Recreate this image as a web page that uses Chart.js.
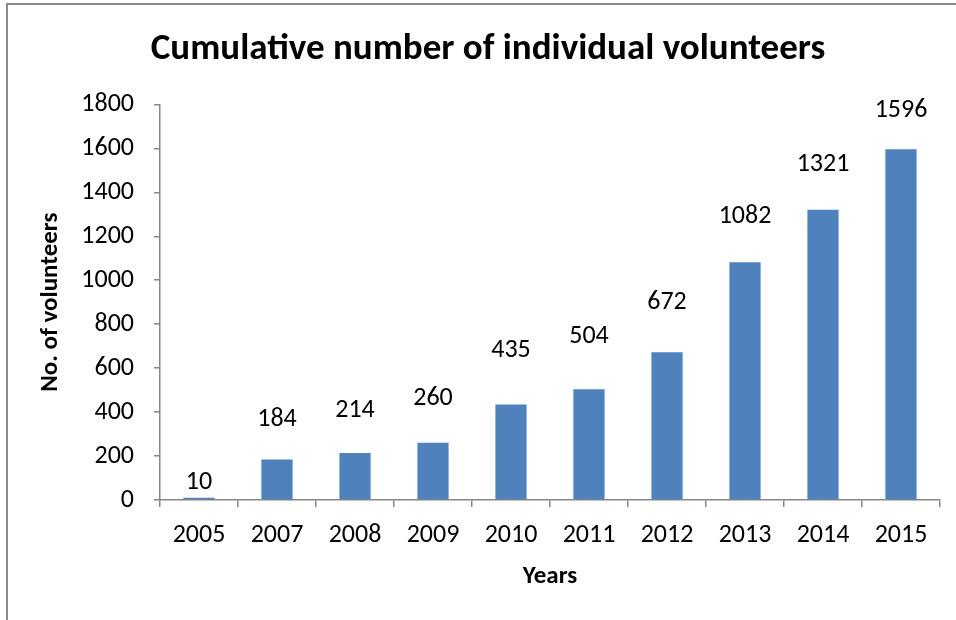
<!DOCTYPE html>
<html>
<head>
<meta charset="utf-8">
<script src="https://cdn.jsdelivr.net/npm/chart.js@4"></script>
<style>
  html, body { margin: 0; padding: 0; background: #fff; overflow: hidden; }
  #frame {
    position: absolute; left: 6px; top: 3px; width: 980px; height: 640px;
    border-left: 2px solid #8a8a8a; border-top: 2px solid #8a8a8a;
  }
  #wrap { position: absolute; left: 0; top: 0; width: 956px; height: 620px; }
</style>
</head>
<body>
<div id="frame"></div>
<div id="wrap"><canvas id="volChart" width="956" height="620"></canvas></div>
<script>
  const years = ['2005', '2007', '2008', '2009', '2010', '2011', '2012', '2013', '2014', '2015'];
  const volunteers = [10, 184, 214, 260, 435, 504, 672, 1082, 1321, 1596];
  const yTicks = [0, 200, 400, 600, 800, 1000, 1200, 1400, 1600, 1800];
  // how far each value label floats above its bar (px)
  const labelGap = [15, 40, 42, 44, 54, 53, 50, 46, 45, 39];

  const FONT = 'Carlito, Lato, sans-serif';
  const axisGrey = '#868686';

  const valueLabels = {
    id: 'valueLabels',
    afterDatasetsDraw(chart) {
      const {ctx} = chart;
      const meta = chart.getDatasetMeta(0);
      ctx.save();
      ctx.font = '26px ' + FONT;
      ctx.fillStyle = '#000';
      ctx.textAlign = 'center';
      ctx.textBaseline = 'middle';
      meta.data.forEach((bar, i) => {
        ctx.fillText(String(volunteers[i]), bar.x, bar.y - labelGap[i]);
      });
      ctx.restore();
    }
  };

  new Chart(document.getElementById('volChart'), {
    type: 'bar',
    data: {
      labels: years,
      datasets: [{
        data: volunteers,
        backgroundColor: '#4f81bd',
        borderWidth: 0,
        categoryPercentage: 1,
        barPercentage: 0.4
      }]
    },
    options: {
      responsive: false,
      animation: false,
      layout: {padding: {left: 36, right: 16, top: 16, bottom: 12}},
      plugins: {
        legend: {display: false},
        tooltip: {enabled: false},
        title: {
          display: true,
          text: 'Cumulative number of individual volunteers',
          color: '#000',
          font: {family: FONT, size: 37, weight: 'bold'},
          padding: {top: 12, bottom: 32}
        }
      },
      scales: {
        x: {
          grid: {display: true, drawOnChartArea: false, offset: true, tickLength: 7, color: axisGrey, lineWidth: 1.5},
          border: {display: true, color: axisGrey, width: 1.5},
          ticks: {color: '#000', font: {family: FONT, size: 26}, padding: 13, maxRotation: 0},
          title: {display: true, text: 'Years', color: '#000', font: {family: FONT, size: 25, weight: 'bold'}, padding: {top: 0, bottom: 16}},
          afterFit: s => { s.height = 108; }
        },
        y: {
          min: 0,
          max: 1800,
          afterBuildTicks: s => { s.ticks = yTicks.map(v => ({value: v})); },
          grid: {display: true, drawOnChartArea: false, tickLength: 6, color: axisGrey, lineWidth: 1.5},
          border: {display: true, color: axisGrey, width: 1.5},
          ticks: {color: '#000', font: {family: FONT, size: 26}, padding: 20, callback: v => String(v)},
          title: {display: true, text: 'No. of volunteers', color: '#000', font: {family: FONT, size: 25, weight: 'bold'}, padding: {top: 0, bottom: 0}},
          afterFit: s => { s.width = 124; }
        }
      }
    },
    plugins: [valueLabels]
  });
</script>
</body>
</html>
